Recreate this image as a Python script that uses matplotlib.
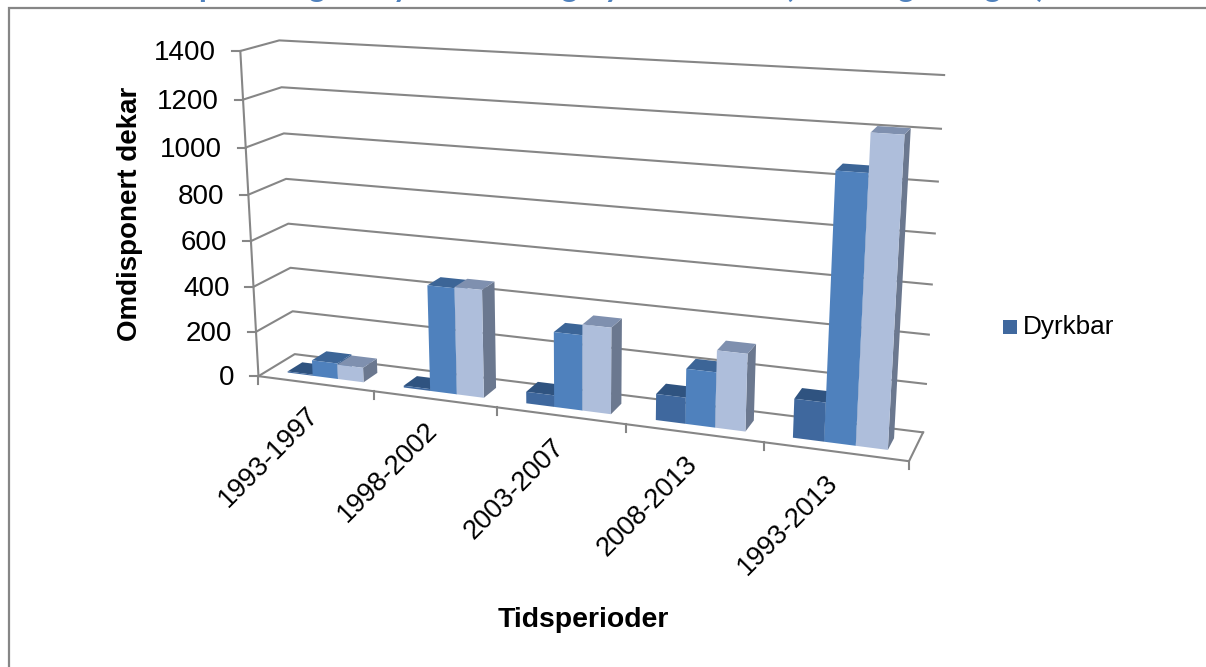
import numpy as np
import matplotlib
matplotlib.use('Agg')
import matplotlib.pyplot as plt
from matplotlib.patches import Polygon

plt.rcParams['font.family'] = ['Liberation Sans', 'DejaVu Sans']

# data
periods = ['1993-1997', '1998-2002', '2003-2007', '2008-2013', '1993-2013']
series_a = [5, 8, 50, 110, 160]
series_b = [70, 460, 320, 230, 1065]
series_c = [65, 465, 365, 320, 1215]
y_ticks = [0, 200, 400, 600, 800, 1000, 1200, 1400]
y_max = 1400

face_cols = ['#3F689E', '#4F81BD', '#AEBEDB']
top_cols = ['#2F5380', '#3C6597', '#7F90AF']
side_cols = ['#2F5380', '#3C6597', '#6B788F']
grid_col = '#868686'

# frame of the 3d box: (across, depth, height) -> pixel
frame = [
    ((0, 0, 0), (259, 376)), ((0, 0, 1), (240, 51)), ((0, 0, 5/7), (246, 147)),
    ((0, 1, 0), (294, 354)), ((0, 1, 1), (279, 41)), ((0, 1, 2/7), (291, 268)), ((0, 1, 5/7), (284, 133)),
    ((1, 1, 0), (923, 432)), ((1, 1, 1), (944, 75)), ((1, 1, 2/7), (929, 335)),
    ((1, 1, 4/7), (935, 233)), ((1, 1, 6/7), (941, 129)),
    ((1, 0, 0), (909, 461)), ((0.2, 0, 0), (374, 391)),
    ((0.4, 0, 0), (497, 408)), ((0.6, 0, 0), (627, 425)),
    ((0.8, 0, 0), (763, 442)),
]


# fit the projection matrix from the frame points, reweighted a few times
# so the error is measured in pixels
def fit_projection(points):
    weights = np.ones(len(points))
    for _ in range(8):
        rows = []
        for ((u, v, w), (x, y)), s in zip(points, weights):
            rows.append([s*u, s*v, s*w, s, 0, 0, 0, 0, -s*x*u, -s*x*v, -s*x*w, -s*x])
            rows.append([0, 0, 0, 0, s*u, s*v, s*w, s, -s*y*u, -s*y*v, -s*y*w, -s*y])
        _, _, vt = np.linalg.svd(np.array(rows, dtype=float))
        m = vt[-1].reshape(3, 4)
        weights = np.array([1 / abs(m[2] @ np.array([*p[0], 1.0])) for p in points])
    return m


P = fit_projection(frame)


def proj(u, v, val):
    p = P @ np.array([u, v, val / y_max, 1.0])
    return p[0] / p[2], p[1] / p[2]


def draw_bar(ax, u0, u1, v0, v1, val, i):
    front = [proj(u0, v0, 0), proj(u1, v0, 0), proj(u1, v0, val), proj(u0, v0, val)]
    side = [proj(u1, v0, 0), proj(u1, v1, 0), proj(u1, v1, val), proj(u1, v0, val)]
    top = [proj(u0, v0, val), proj(u1, v0, val), proj(u1, v1, val), proj(u0, v1, val)]
    ax.add_patch(Polygon(side, fc=side_cols[i], ec='none', zorder=3))
    ax.add_patch(Polygon(top, fc=top_cols[i], ec='none', zorder=3))
    ax.add_patch(Polygon(front, fc=face_cols[i], ec='none', zorder=3))


fig = plt.figure(figsize=(12.06, 6.67), dpi=100)
ax = fig.add_axes([0, 0, 1, 1])
ax.set_xlim(0, 1206)
ax.set_ylim(667, 0)
ax.axis('off')

# outer chart border
ax.plot([1206, 9, 9], [8, 8, 667], color='#868686', lw=1.6, zorder=1, solid_joinstyle='miter')

# walls and floor
for t in y_ticks:
    a = proj(0, 0, t)
    b = proj(0, 1, t)
    c = proj(1, 1, t)
    ax.plot([a[0], b[0], c[0]], [a[1], b[1], c[1]], color=grid_col, lw=1.5, zorder=1)
    ax.plot([a[0] - 8, a[0]], [a[1], a[1]], color=grid_col, lw=1.5, zorder=1)
    ax.text(a[0] - 24, a[1] + 2, str(t), ha='right', va='center', fontsize=20, color='black')

a = proj(0, 0, 0)
b = proj(0, 0, y_max)
ax.plot([a[0], b[0]], [a[1], b[1]], color=grid_col, lw=1.5, zorder=1)
fl = [proj(0, 0, 0), proj(1, 0, 0), proj(1, 1, 0)]
ax.plot([p[0] for p in fl], [p[1] for p in fl], color=grid_col, lw=1.5, zorder=1)

n = len(periods)
for k in range(n + 1):
    x, y = proj(k / n, 0, 0)
    ax.plot([x, x], [y, y + 8], color=grid_col, lw=1.5, zorder=1)

# bars, left to right so each one hides the side of the last
gap = 0.17
depth0, depth1 = 0.27, 0.68
for k in range(n):
    cell0 = k / n
    width = (1 - 2 * gap) / 3 / n
    vals = [series_a[k], series_b[k], series_c[k]]
    for i, val in enumerate(vals):
        u0 = cell0 + gap / n + i * width
        draw_bar(ax, u0, u0 + width, depth0, depth1, val, i)

# category labels
for k, name in enumerate(periods):
    x, y = proj((k + 0.5) / n, 0, 0)
    ax.text(x - 10, y + 18, name, rotation=45, rotation_mode='anchor', ha='right', va='top', fontsize=19.5, color='black')

ax.text(130, 214, 'Omdisponert dekar', rotation=90, ha='center', va='center', fontsize=20, fontweight='bold')
ax.text(583, 620, 'Tidsperioder', ha='center', va='center', fontsize=20.4, fontweight='bold')

# legend
ax.add_patch(Polygon([(1003, 320), (1017, 320), (1017, 334), (1003, 334)], fc=face_cols[0], ec='none'))
ax.text(1023, 327, 'Dyrkbar', ha='left', va='center', fontsize=18.8)

# title is cut off by the top of the page in the original, only descenders show
ax.text(576, -3, 'Omdisponering av dyrka mark og dyrkbar mark (totalt og mengde)', ha='center', va='baseline',
        fontsize=23, fontweight='bold', color='#4F81BD', family=['Lato', 'DejaVu Sans'], clip_on=False)

fig.savefig('out.png', dpi=100)
